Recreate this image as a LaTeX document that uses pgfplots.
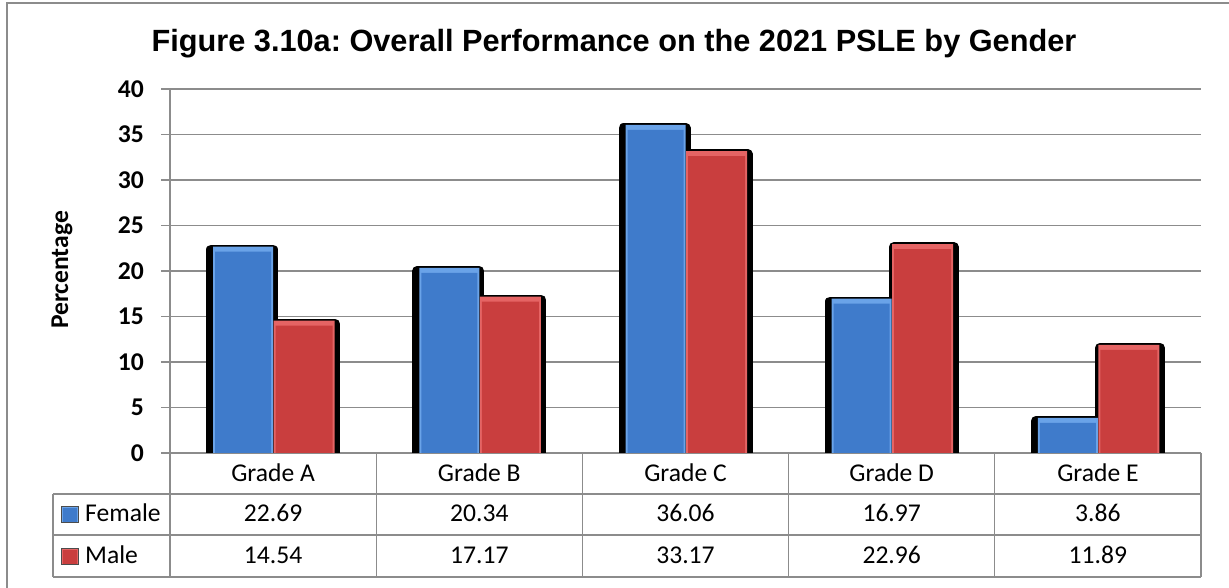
\documentclass[border=0pt]{standalone}
\usepackage{pgfplots}
\usepackage{pgfplotstable}
\pgfplotsset{compat=1.18}
\usepackage{fontspec}
\setmainfont{Carlito}
\newfontfamily\arialfont{Liberation Sans}
\definecolor{gridcol}{HTML}{8C8C8C}
\definecolor{blueMain}{HTML}{3F7BCB}
\definecolor{blueLight}{HTML}{6AA3E8}
\definecolor{redMain}{HTML}{C93E3E}
\definecolor{redLight}{HTML}{E56464}
\newcommand\tabfont{\fontsize{25.6bp}{30bp}\selectfont}
\pgfplotstableread{
x f m
0 22.69 14.54
1 20.34 17.17
2 36.06 33.17
3 16.97 22.96
4 3.86 11.89
}\data
\frenchspacing
\begin{document}
\begin{tikzpicture}[x=1bp,y=1bp]
\useasboundingbox (0,0) rectangle (1229,588);
\begin{axis}[
  scale only axis, width=1031bp, height=364bp,
  at={(170bp,135bp)}, anchor=south west,
  xmin=-0.5, xmax=4.5, ymin=0, ymax=40,
  ytick={0,5,...,40},
  xtick={0,1,2,3,4},
  xticklabels={Grade A,Grade B,Grade C,Grade D,Grade E},
  axis x line*=bottom, axis y line*=left,
  axis line style={gridcol, line width=1.3bp},
  ymajorgrids, grid style={gridcol, line width=1.3bp},
  tick align=outside, major tick length=9bp,
  ytick style={gridcol, line width=1.3bp},
  xtick style={draw=none},
  /pgf/number format/assume math mode=true,
  yticklabel style={font=\tabfont\bfseries, anchor=east, inner sep=0pt, xshift=-17bp},
  xticklabel style={font=\tabfont, anchor=base, inner sep=0pt, yshift=-19.7bp},
  clip=true,
]
% shadows
\addplot[ybar, bar width=62bp, bar shift=-31bp, fill=black, draw=black, line width=10bp, line join=round, yshift=-3bp] table[x=x, y=f] {\data};
\addplot[ybar, bar width=60bp, bar shift=32bp, fill=black, draw=black, line width=10bp, line join=round, yshift=-3bp] table[x=x, y=m] {\data};
% female
\addplot[ybar, bar width=60bp, bar shift=-30bp, fill=blueLight, draw=none] table[x=x, y=f] {\data};
\addplot[ybar, bar width=56bp, bar shift=-30bp, fill=blueMain, draw=none, yshift=-5bp] table[x=x, y=f] {\data};
% male
\addplot[ybar, bar width=61bp, bar shift=31bp, fill=redLight, draw=none] table[x=x, y=m] {\data};
\addplot[ybar, bar width=57bp, bar shift=31bp, fill=redMain, draw=none, yshift=-5bp] table[x=x, y=m] {\data};
\end{axis}
% table lines
\begin{scope}[gridcol, line width=1.3bp]
\draw (53,94) -- (1201,94);
\draw (53,53) -- (1201,53);
\draw (53,11) -- (1201,11);
\draw (53,11) -- (53,94);
\foreach \xx in {170,376.2,582.4,788.6,994.8,1201} \draw (\xx,11) -- (\xx,135);
\end{scope}
% table values
\foreach \i in {0,...,4} {
  \pgfplotstablegetelem{\i}{f}\of\data
  \node[anchor=base, font=\tabfont, inner sep=0pt] at ({273.1+206.2*\i},66) {\pgfplotsretval};
  \pgfplotstablegetelem{\i}{m}\of\data
  \node[anchor=base, font=\tabfont, inner sep=0pt] at ({273.1+206.2*\i},24) {\pgfplotsretval};
}
% legend keys
\fill[blueLight] (61,66) rectangle (78,82);
\fill[blueMain] (62.5,66) rectangle (76.5,79.5);
\draw[black!70, line width=0.6bp] (61,66) rectangle (78,82);
\fill[redLight] (61,24) rectangle (78,40);
\fill[redMain] (62.5,24) rectangle (76.5,37.5);
\draw[black!70, line width=0.6bp] (61,24) rectangle (78,40);
\node[anchor=base west, font=\tabfont, inner sep=0pt] at (85,66) {Female};
\node[anchor=base west, font=\tabfont, inner sep=0pt] at (85,24) {Male};
% y label
\node[rotate=90, font=\tabfont\bfseries, inner sep=0pt] at (62,318) {Percentage};
% title
\node[anchor=base, font=\arialfont\fontsize{30.7bp}{36bp}\selectfont\bfseries, inner sep=0pt] at (614,536.5) {Figure 3.10a: Overall Performance on the 2021 PSLE by Gender};
% frame
\draw[gridcol, line width=1.5bp] (7,-20) rectangle (1260,585);
\end{tikzpicture}
\end{document}
